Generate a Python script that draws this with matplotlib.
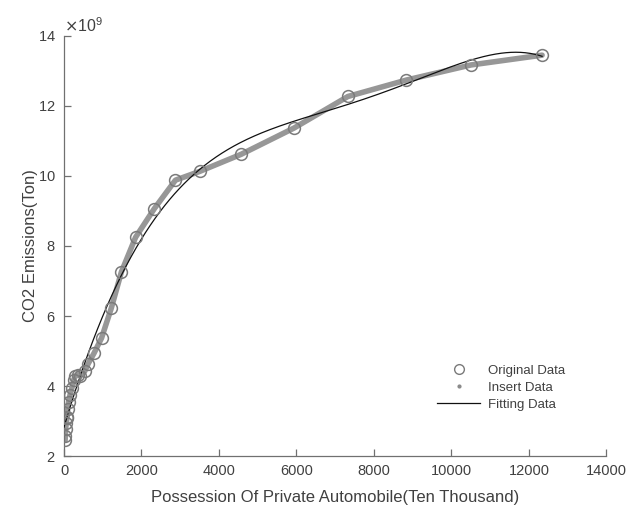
import numpy as np
import matplotlib
matplotlib.use("Agg")
import matplotlib.pyplot as plt
from matplotlib.lines import Line2D
from matplotlib.ticker import ScalarFormatter

# Private automobile stock (ten thousand vehicles), 1985-2014
cars = [28.49, 34.71, 42.29, 60.42, 73.12, 81.62, 96.04, 118.2, 155.77, 205.42,
        249.96, 289.67, 358.36, 423.65, 533.88, 625.33, 770.78, 968.98, 1219.23,
        1481.66, 1848.07, 2333.32, 2876.22, 3501.39, 4574.91, 5938.71, 7326.79,
        8838.6, 10501.68, 12339.36]

# CO2 emissions (x 1e9 ton)
co2 = [2.45, 2.58, 2.78, 2.95, 3.08, 3.12, 3.35, 3.55, 3.75, 3.95,
       4.18, 4.28, 4.32, 4.30, 4.42, 4.64, 4.93, 5.37, 6.22,
       7.26, 8.25, 9.07, 9.88, 10.13, 10.62, 11.37, 12.27,
       12.74, 13.17, 13.45]

x_ticks = [0, 2000, 4000, 6000, 8000, 10000, 12000, 14000]
y_ticks = [2, 4, 6, 8, 10, 12, 14]

FONT = "Liberation Sans"
plt.rcParams["font.family"] = [FONT, "DejaVu Sans"]

x = np.array(cars)
y = np.array(co2) * 1e9

fig = plt.figure(figsize=(6.30, 5.13), dpi=100)
ax = fig.add_axes([0.1016, 0.111, 0.861, 0.819])

# interpolated series, drawn as a thick grey band through the samples
ax.plot(x, y, "-", color="#979797", lw=4.0, solid_capstyle="round", zorder=2)
# 5th-degree polynomial fit
coef = np.polyfit(x / 1e4, y / 1e9, 5)
xf = np.linspace(0, x.max(), 400)
ax.plot(xf, np.polyval(coef, xf / 1e4) * 1e9, "-", color="#111111", lw=0.9, zorder=3)
# original samples
ax.plot(x, y, "o", mfc="none", mec="#7a7a7a", ms=8.5, mew=1.1, zorder=4)

ax.set_xlim(0, 14000)
ax.set_ylim(2e9, 14e9)
ax.set_xticks(x_ticks)
ax.set_yticks([v * 1e9 for v in y_ticks])

fmt = ScalarFormatter(useMathText=True)
fmt.set_powerlimits((9, 9))
ax.yaxis.set_major_formatter(fmt)
ax.yaxis.get_offset_text().set_color("#666666")
ax.yaxis.get_offset_text().set_fontsize(11.5)

for s in ("top", "right"):
    ax.spines[s].set_visible(False)
for s in ("left", "bottom"):
    ax.spines[s].set_color("#707070")
    ax.spines[s].set_linewidth(0.9)
ax.tick_params(direction="in", length=5, width=0.9, color="#707070",
               labelsize=10.5, labelcolor="#404040", pad=6)

ax.set_xlabel("Possession Of Private Automobile(Ten Thousand)", fontsize=12,
              color="#404040", labelpad=8)
ax.set_ylabel("CO2 Emissions(Ton)", fontsize=12, color="#404040", labelpad=0)

handles = [
    Line2D([], [], marker="o", ls="none", mfc="none", mec="#7a7a7a", ms=7, mew=1.0),
    Line2D([], [], marker=".", ls="none", color="#8a8a8a", ms=4),
    Line2D([], [], ls="-", color="#111111", lw=0.9),
]
ax.legend(handles, ["Original Data", "Insert Data", "Fitting Data"],
          loc="lower right", bbox_to_anchor=(0.945, 0.08), frameon=False,
          fontsize=9.5, labelcolor="#404040", handlelength=3.2,
          handletextpad=0.6, labelspacing=0.35)

fig.savefig("out.png", dpi=100)
